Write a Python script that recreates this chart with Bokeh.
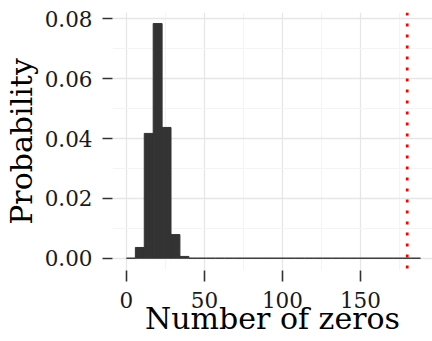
import numpy as np
from bokeh.plotting import figure
from bokeh.models import Range1d, Span, SingleIntervalTicker, NumeralTickFormatter, ColumnDataSource
from bokeh.embed import file_html
from bokeh.resources import INLINE

# ---- data ----
bin_start = 0.0
bin_width = 5.712
densities = [0.0, 0.0036, 0.0417, 0.0784, 0.0437, 0.0079, 0.0006,
             0.0, 0.0, 0.0, 0.0, 0.0, 0.0, 0.0, 0.0, 0.0, 0.0, 0.0,
             0.0, 0.0, 0.0, 0.0, 0.0, 0.0, 0.0, 0.0, 0.0, 0.0, 0.0,
             0.0, 0.0, 0.0, 0.0]
observed_zeros = 180
x_tick_interval = 50
y_tick_interval = 0.02
x_label = "Number of zeros"
y_label = "Probability"

n = len(densities)
lefts = bin_start + bin_width * np.arange(n)
rights = lefts + bin_width
src = ColumnDataSource(dict(left=lefts, right=rights, top=densities, bottom=[0.0] * n))

FONT = "DejaVu Serif"

p = figure(width=432, height=341, output_backend="svg", toolbar_location=None,
           x_range=Range1d(-8.95, 196.2), y_range=Range1d(-0.0041, 0.0821),
           min_border_left=111, min_border_right=0, min_border_top=12, min_border_bottom=71)
p.outline_line_color = None
p.background_fill_color = "white"
p.border_fill_color = "white"

p.quad(left="left", right="right", top="top", bottom="bottom", source=src,
       fill_color="#333333", line_color="#333333", line_width=1)

p.add_layout(Span(location=observed_zeros, dimension="height", line_color="red",
                  line_dash="3 8", line_width=2.7))

p.xaxis.ticker = SingleIntervalTicker(interval=x_tick_interval, num_minor_ticks=2)
p.yaxis.ticker = SingleIntervalTicker(interval=y_tick_interval, num_minor_ticks=2)
p.yaxis.formatter = NumeralTickFormatter(format="0.00")

for g in (p.xgrid, p.ygrid):
    g.grid_line_color = "#E6E6E6"
    g.grid_line_width = 1.3
    g.minor_grid_line_color = "#F4F4F4"
    g.minor_grid_line_width = 1.0

for ax in (p.xaxis, p.yaxis):
    ax.axis_line_color = None
    ax.major_tick_line_color = "#333333"
    ax.major_tick_line_width = 1.6
    ax.major_tick_in = 0
    ax.minor_tick_line_color = None
    ax.major_label_text_font = FONT
    ax.major_label_text_font_size = "21.5px"
    ax.major_label_text_color = "#1a1a1a"
    ax.axis_label_text_font = FONT
    ax.axis_label_text_font_size = "30px"
    ax.axis_label_text_font_style = "normal"
    ax.axis_label_text_color = "black"

p.xaxis.major_tick_out = 11
p.xaxis.major_label_standoff = 10
p.xaxis.axis_label_standoff = -10
p.yaxis.major_tick_out = 10
p.yaxis.major_label_standoff = 10
p.yaxis.axis_label_standoff = 3
p.xaxis.axis_label = x_label
p.yaxis.axis_label = y_label

open("out.html", "w").write(file_html(p, INLINE))
